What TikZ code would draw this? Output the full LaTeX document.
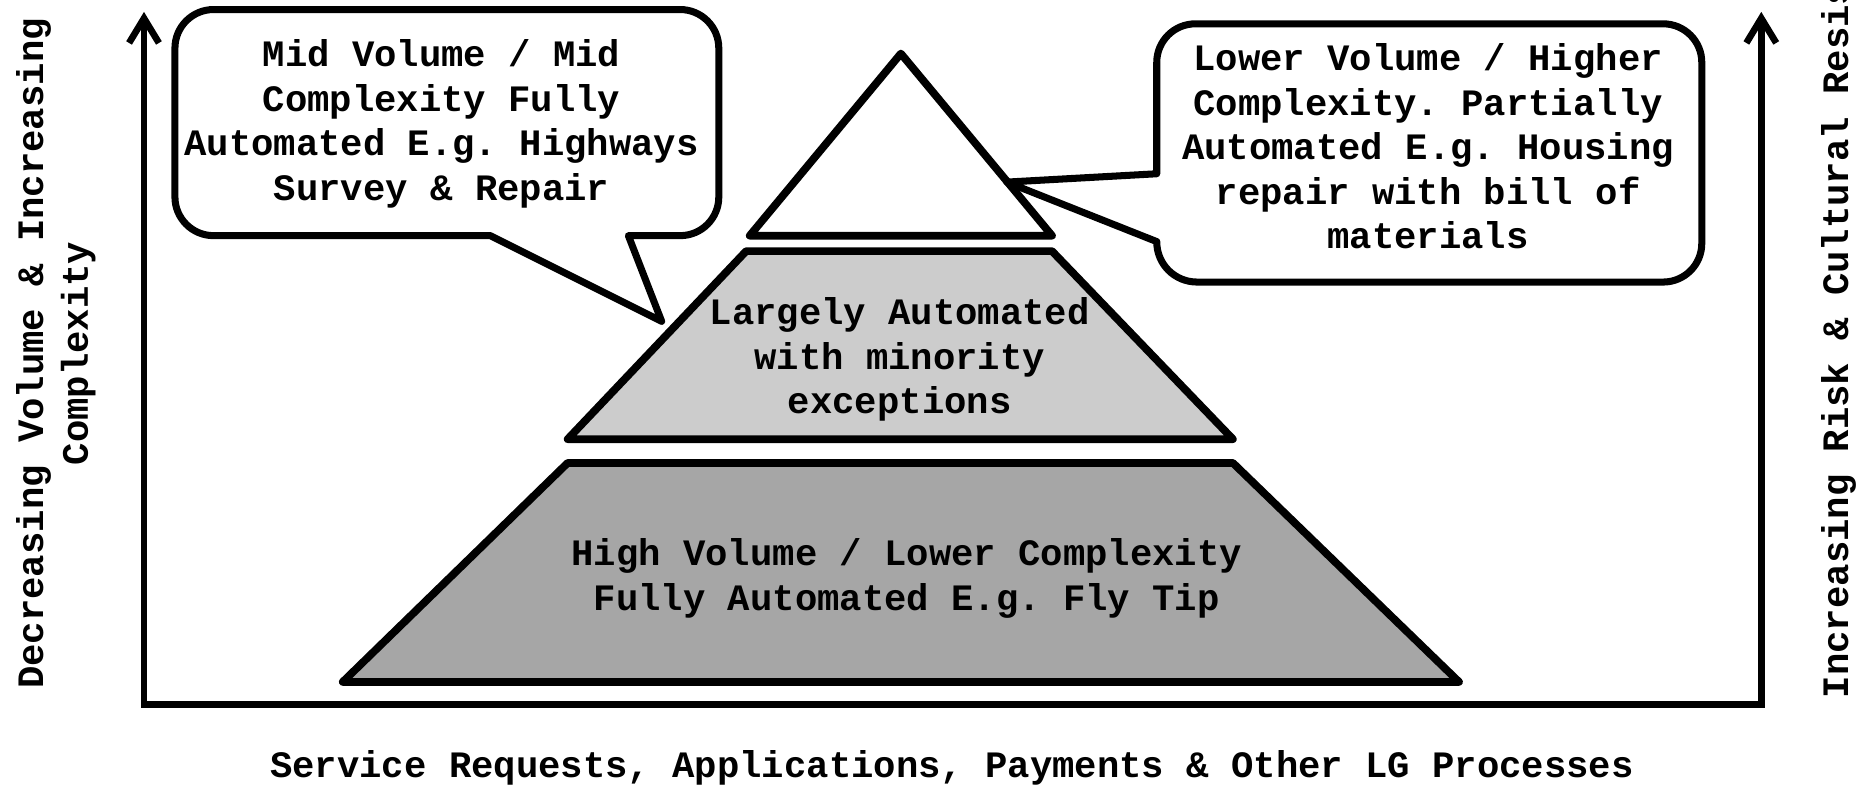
\documentclass[tikz,border=0pt]{standalone}
\usepackage{fontspec}
\setmonofont{Liberation Mono}
\usetikzlibrary{arrows.meta, positioning}

\definecolor{midgray}{HTML}{CCCCCC}
\definecolor{lowgray}{HTML}{A6A6A6}

\begin{document}
\frenchspacing
\begin{tikzpicture}[x=0.0119cm, y=-0.0119cm,
    every node/.style={font=\fontsize{10.6}{12.7}\selectfont\ttfamily\bfseries, align=center},
    layer/.style={draw, line width=2.2pt, line join=round},
    bubble/.style={draw, fill=white, line width=2pt, line join=round},
    axis/.style={line width=1.9pt, line cap=round,
                 {Straight Barb[length=7pt,width=8.5pt]}-{Straight Barb[length=7pt,width=8.5pt]}}]

        % page size of the reference
        \useasboundingbox (0,0) rectangle (1568,660);
        \clip (0,0) rectangle (1568,660);

        % the two upright axes and the base line
        \draw[axis] (121,10) -- (121,592) -- (1480,592) -- (1480,10);

        % pyramid, top to bottom
        \coordinate (apex) at (757,45);
        \draw[layer, fill=white] (apex) -- (884,198) -- (630,198) -- cycle;
        \draw[layer, fill=midgray] (627,211) -- (884,211) -- (1036,369) -- (477,369) -- cycle;
        \draw[layer, fill=lowgray] (477,389) -- (1036,389) -- (1226,573) -- (288,573) -- cycle;

        \node (midtext) at (756,302) {Largely Automated\\with minority\\exceptions};
        \node (lowtext) at (762,486) {High Volume / Lower Complexity\\Fully Automated E.g. Fly Tip};

        % left callout, pointing down at the middle layer
        \draw[bubble] (375,8) [rounded corners=11pt] -- (147,8) -- (147,198) -- (300,198)
              [sharp corners] -- (412,198) -- (556,270) -- (528,198) -- (560,198)
              [rounded corners=11pt] -- (604,198) -- (604,8) -- cycle;
        \node (midcall) at (371,104) {Mid Volume / Mid\\Complexity Fully\\Automated E.g. Highways\\Survey \& Repair};

        % right callout, pointing left at the top layer
        \draw[bubble] (1200,20) [rounded corners=11pt] -- (972,20) -- (972,100)
              [sharp corners] -- (972,146) -- (846,153) -- (972,203)
              .. controls (972,222) and (987,237) .. (1006,237) -- (1200,237)
              [rounded corners=11pt] -- (1430,237) -- (1430,20) -- cycle;
        \node (highcall) at (1200,123) {Lower Volume / Higher\\Complexity. Partially\\Automated E.g. Housing\\repair with bill of\\materials};

        % axis labels
        \node[rotate=90] (vollabel) at (47,297) {Decreasing Volume \& Increasing\\Complexity};
        \node[rotate=90, anchor=west] (risklabel) at (1545,597) {Increasing Risk \& Cultural Resistance};
        \node (proclabel) at (800,645) {Service Requests, Applications, Payments \& Other LG Processes};

\end{tikzpicture}
\end{document}
